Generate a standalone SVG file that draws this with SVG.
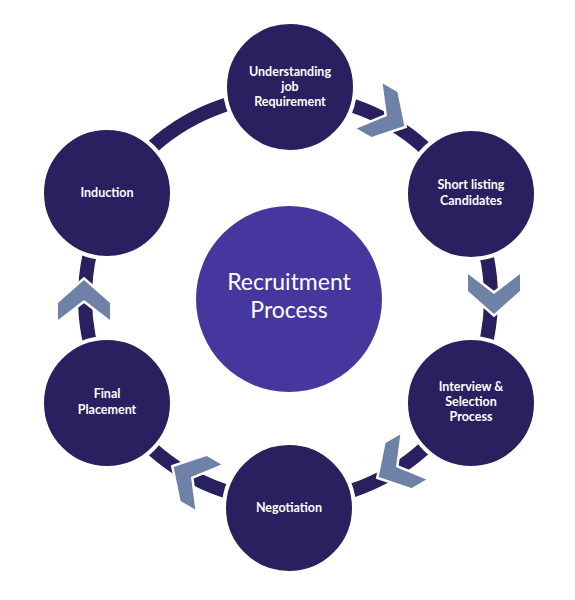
<svg xmlns="http://www.w3.org/2000/svg" width="575" height="600" viewBox="0 0 575 600">
<style>
.node{fill:#2A1F5F;stroke:#ffffff;stroke-width:4}
.hub{fill:#46379E}
.ring{fill:none;stroke:#2A1F5F;stroke-width:14}
.chev{fill:#6D82A6;stroke:#ffffff;stroke-width:5;stroke-linejoin:miter;paint-order:stroke}
.t{font-family:Lato,"Open Sans","Liberation Sans",sans-serif;font-size:12.5px;font-weight:bold;fill:#ffffff;text-anchor:middle}
.ht{font-family:Lato,"Open Sans","Liberation Sans",sans-serif;font-size:23px;fill:#ffffff;text-anchor:middle}
</style>
<defs>
<polygon id="chevron" points="-20,-26 -3,-26 20,0 -3,26 -20,26 0,0"/>
</defs>
<rect width="575" height="600" fill="#ffffff"/>
<g id="connectors">
<circle class="ring" cx="288" cy="298" r="203"/>
</g>
<g id="hub">
<circle class="hub" cx="289" cy="299" r="93"/>
<text class="ht" x="289" y="290">Recruitment</text>
<text class="ht" x="289" y="318">Process</text>
</g>
<g id="node-understanding">
<circle class="node" cx="290" cy="87" r="65"/>
<text class="t" x="290" y="76">Understanding</text>
<text class="t" x="290" y="91">job</text>
<text class="t" x="290" y="106">Requirement</text>
</g>
<g id="node-shortlisting">
<circle class="node" cx="471" cy="194" r="65"/>
<text class="t" x="471" y="189">Short listing</text>
<text class="t" x="471" y="205">Candidates</text>
</g>
<g id="node-interview">
<circle class="node" cx="471" cy="403" r="65"/>
<text class="t" x="471" y="391">Interview &amp;</text>
<text class="t" x="471" y="406">Selection</text>
<text class="t" x="471" y="421">Process</text>
</g>
<g id="node-negotiation">
<circle class="node" cx="289" cy="508" r="65"/>
<text class="t" x="289" y="512">Negotiation</text>
</g>
<g id="node-final">
<circle class="node" cx="107" cy="403" r="65"/>
<text class="t" x="107" y="398">Final</text>
<text class="t" x="107" y="414">Placement</text>
</g>
<g id="node-induction">
<circle class="node" cx="107" cy="193" r="65"/>
<text class="t" x="107" y="197">Induction</text>
</g>
<g id="chevrons">
<use href="#chevron" class="chev" transform="translate(387,116) rotate(30)"/>
<use href="#chevron" class="chev" transform="translate(494,294) rotate(90)"/>
<use href="#chevron" class="chev" transform="translate(396,467) rotate(150)"/>
<use href="#chevron" class="chev" transform="translate(191,477) rotate(210)"/>
<use href="#chevron" class="chev" transform="translate(84,300) rotate(270)"/>
</g>
</svg>
